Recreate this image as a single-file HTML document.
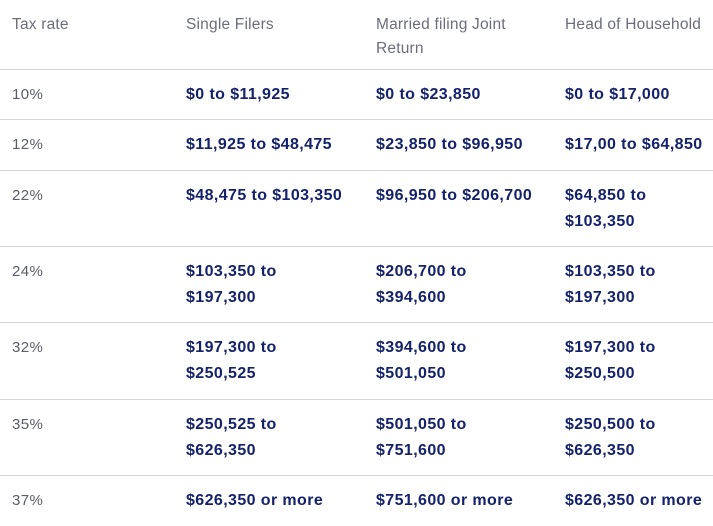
<!DOCTYPE html>
<html><head><meta charset="utf-8"><style>
body{margin:0;width:713px;height:526px;background:#fff;position:relative;overflow:hidden;font-family:"Liberation Sans",sans-serif}
.t{position:absolute;font-size:16px;line-height:26px;white-space:nowrap;letter-spacing:0.4px}
.h{color:#6b6d7c;font-size:15.5px;line-height:24px;letter-spacing:0.2px}
.r{color:#5a5c6a;font-size:15px}
.b{color:#14226b;font-weight:bold}
.l{position:absolute;left:0;width:713px;height:1px;background:#d3d3da}
</style></head><body>
<div class="t h" style="left:12px;top:13px">Tax rate</div>
<div class="t h" style="left:186px;top:13px">Single Filers</div>
<div class="t h" style="left:376px;top:13px">Married filing Joint<br>Return</div>
<div class="t h" style="left:565px;top:13px">Head of Household</div>
<div id="rows"></div>
<script>
const rates=["10%","12%","22%","24%","32%","35%","37%"];
const single=["$0 to $11,925","$11,925 to $48,475","$48,475 to $103,350","$103,350 to<br>$197,300","$197,300 to<br>$250,525","$250,525 to<br>$626,350","$626,350 or more"];
const married=["$0 to $23,850","$23,850 to $96,950","$96,950 to $206,700","$206,700 to<br>$394,600","$394,600 to<br>$501,050","$501,050 to<br>$751,600","$751,600 or more"];
const head=["$0 to $17,000","$17,00 to $64,850","$64,850 to<br>$103,350","$103,350 to<br>$197,300","$197,300 to<br>$250,500","$250,500 to<br>$626,350","$626,350 or more"];
const tops=[69,119,170,246,322,399,475];
const root=document.getElementById('rows');
rates.forEach((r,i)=>{
  const line=document.createElement('div');
  line.className='l';line.style.top=tops[i]+'px';
  
  
  root.appendChild(line);
  const cells=[[12,r,'t r','rate-cell'],[186,single[i],'t b','single-cell'],[376,married[i],'t b','married-cell'],[565,head[i],'t b','head-cell']];
  cells.forEach(c=>{
    const d=document.createElement('div');
    d.className=c[2];d.style.left=c[0]+'px';d.style.top=(tops[i]+13)+'px';d.innerHTML=c[1];
    
    
    root.appendChild(d);
  });
});
</script>
</body></html>
